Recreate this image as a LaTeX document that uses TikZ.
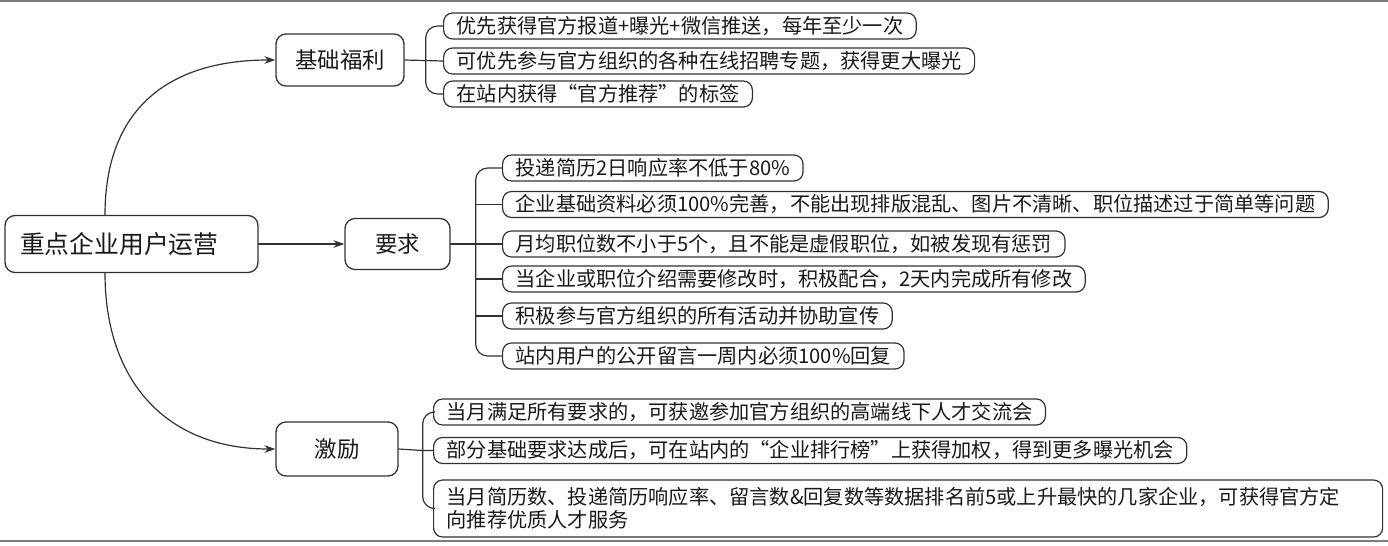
\documentclass[tikz,border=0pt]{standalone}
\usepackage{fontspec}
\setmainfont{Noto Sans CJK SC}
\usetikzlibrary{arrows.meta,calc,positioning}
\definecolor{mapline}{RGB}{50,50,50}
\definecolor{maptext}{RGB}{25,25,25}
\definecolor{framegray}{RGB}{125,125,125}

\begin{document}
\begin{tikzpicture}[>={Stealth[length=5.5pt,width=3.8pt]},x=0.5pt,y=-0.5pt,line cap=round,line join=round,
  topic/.style={draw=mapline,line width=0.65pt,rounded corners=5pt,minimum height=26pt,inner sep=0pt,
    text=maptext,font=\fontsize{11.2}{13}\selectfont},
  leaf/.style={draw=mapline,line width=0.6pt,rounded corners=4.5pt,minimum height=13pt,inner xsep=6.5pt,
    inner ysep=0pt,anchor=west,text=maptext,font=\fontsize{10.1}{11.5}\selectfont},
  link/.style={draw=mapline,line width=0.6pt}]
\useasboundingbox (0,0) rectangle (1388,546);
\draw[framegray,line width=0.8pt] (0,1)--(1388,1);
\draw[framegray,line width=0.8pt] (0,541)--(1388,541);
% main topics
\node[topic,text width=111.5pt,align=left,inner xsep=7.5pt,minimum height=28.5pt,
  font=\fontsize{12.4}{15}\selectfont] (root) at (131.5,244) {重点企业用户运营};
\node[topic,minimum width=64pt] (jichu) at (340,60) {基础福利};
\node[topic,minimum width=52.5pt,minimum height=25.5pt] (yaoqiu) at (397.5,244) {要求};
\node[topic,minimum width=61pt,minimum height=27pt] (jili) at (337,449) {激励};
\draw[link,->] ([xshift=-13.25pt]root.north) .. controls +(0,-105) and +(-108,0) .. (jichu.west);
\draw[link,->] (root.east)--(yaoqiu.west);
\draw[link,->] ([xshift=-13.25pt]root.south) .. controls +(0,109) and +(-108,0) .. (jili.west);
% 基础福利
\foreach \y/\txt [count=\i] in {26/{优先获得官方报道+曝光+微信推送，每年至少一次},
  61/{可优先参与官方组织的各种在线招聘专题，获得更大曝光},
  94/{在站内获得“官方推荐”的标签}}
  \node[leaf] (fuli\i) at (443,\y) {\txt};
\coordinate (fulibar) at ($(jichu.east)+(21,0)$);
\draw[link] (jichu.east)--(fuli2.west);
\draw[link,rounded corners=6pt] (fuli1.west) -| (fulibar) |- (fuli3.west);
% 要求
\foreach \y/\txt [count=\i] in {168/{投递简历2日响应率不低于80\%},
  204.5/{企业基础资料必须100\%完善，不能出现排版混乱、图片不清晰、职位描述过于简单等问题},
  244/{月均职位数不小于5个，且不能是虚假职位，如被发现有惩罚},
  279/{当企业或职位介绍需要修改时，积极配合，2天内完成所有修改},
  316/{积极参与官方组织的所有活动并协助宣传},
  356/{站内用户的公开留言一周内必须100\%回复}}
  \node[leaf] (yq\i) at (502,\y) {\txt};
\coordinate (yqbar) at ($(yaoqiu.east)+(25,0)$);
\draw[link] (yaoqiu.east)--(yq3.west);
\draw[link,rounded corners=6pt] (yq1.west) -| (yqbar) |- (yq6.west);
\foreach \i in {2,4,5}
  \draw[link] (yqbar |- yq\i.west)--(yq\i.west);
% 激励
\node[leaf] (jl1) at (433,412) {当月满足所有要求的，可获邀参加官方组织的高端线下人才交流会};
\node[leaf] (jl2) at (433,450.5) {部分基础要求达成后，可在站内的“企业排行榜”上获得加权，得到更多曝光机会};
\node[leaf,text width=461.5pt,align=left,minimum height=28.5pt] (jl3) at (433,508.5)
  {当月简历数、投递简历响应率、留言数\&回复数等数据排名前5或上升最快的几家企业，可获得官方定\\向推荐优质人才服务};
\coordinate (jlbar) at ($(jili.east)+(24,0)$);
\draw[link] (jili.east)--(jlbar |- jl2.west)--(jl2.west);
\draw[link,rounded corners=6pt] (jl1.west) -| (jlbar) |- (jl3.west);
\end{tikzpicture}
\end{document}
